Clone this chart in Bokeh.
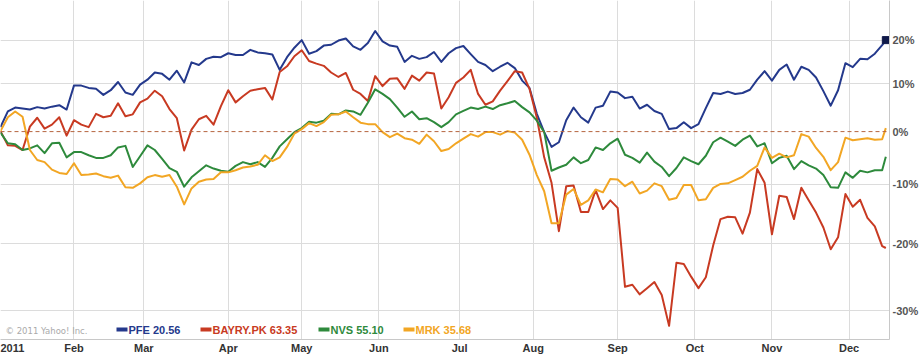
from bokeh.plotting import figure
from bokeh.models import (FixedTicker, Range1d, Span, Label, BoxAnnotation,
                          CustomJSTickFormatter)
from bokeh.embed import file_html
from bokeh.resources import INLINE

# trading-day index (0 = first trading day of 2011), sampled every 2 sessions
days = list(range(0, 241, 2)) + [241]

month_labels = ["2011", "Feb", "Mar", "Apr", "May", "Jun", "Jul", "Aug",
                "Sep", "Oct", "Nov", "Dec"]
month_days = [0, 20, 39, 62, 82, 103, 125, 145, 168, 189, 210, 231]

pct_ticks = [-30, -20, -10, 0, 10, 20]

tickers = ["PFE", "BAYRY.PK", "NVS", "MRK"]
last_prices = ["20.56", "63.35", "55.10", "35.68"]

# percent change since start of 2011
pfe = [0.9, 4.1, 4.9, 4.7, 4.5, 5.0, 4.7, 5.1, 5.4, 4.5,
       9.6, 9.6, 9.1, 8.9, 7.6, 8.6, 10.4, 8.1, 7.6, 9.8,
       10.9, 12.5, 12.2, 10.9, 12.9, 10.3, 14.8, 14.2, 15.6, 16.1,
       16.0, 16.9, 16.5, 16.5, 17.7, 17.1, 16.9, 16.6, 13.1, 16.0,
       18.2, 20.0, 16.8, 17.4, 18.7, 18.9, 19.9, 20.4, 18.5, 17.7,
       19.3, 22.2, 19.7, 18.7, 18.4, 14.9, 16.3, 15.6, 16.0, 17.2,
       14.9, 16.9, 18.1, 18.6, 16.7, 14.9, 14.2, 12.8, 13.8, 14.7,
       13.5, 10.7, 9.1, 3.6, -0.1, -3.0, -2.1, 2.3, 4.9, 2.9,
       1.8, 4.9, 5.3, 8.3, 8.1, 6.9, 7.2, 4.7, 5.5, 4.2,
       3.6, 0.5, 0.7, 1.9, 0.7, 1.5, 4.8, 8.0, 7.8, 8.3,
       7.8, 8.0, 8.7, 10.9, 12.8, 10.7, 13.1, 14.3, 10.9, 13.8,
       13.1, 11.4, 8.4, 5.3, 8.6, 14.6, 13.7, 15.6, 15.5, 16.8,
       18.8, 20.0]

bayry = [0.1, -2.7, -2.8, -3.6, 1.0, 2.8, 0.6, 1.4, 2.9, -0.8,
         2.3, 1.4, 0.9, 3.6, 2.9, 3.2, 5.8, 3.1, 3.5, 6.0,
         6.8, 8.5, 7.3, 4.6, 2.7, -3.7, 0.4, 2.5, 3.2, 1.4,
         5.2, 8.6, 6.0, 7.3, 8.5, 8.8, 9.1, 6.6, 12.6, 13.9,
         16.2, 17.6, 15.1, 14.5, 14.0, 12.5, 11.5, 12.4, 8.7, 7.8,
         6.3, 11.7, 9.5, 11.1, 11.2, 8.9, 11.8, 10.7, 12.5, 12.3,
         4.7, 7.1, 10.2, 11.4, 13.1, 7.8, 5.5, 6.2, 8.5, 10.6,
         12.8, 12.5, 8.9, 2.8, -5.0, -9.7, -18.0, -10.3, -10.2, -14.8,
         -14.8, -11.0, -14.3, -12.8, -14.1, -26.6, -26.3, -27.7, -26.8, -25.9,
         -27.8, -32.1, -23.0, -23.2, -25.1, -26.8, -25.2, -20.3, -16.0, -15.6,
         -15.7, -18.4, -14.9, -7.2, -9.7, -18.5, -12.0, -12.2, -16.0, -10.6,
         -12.8, -14.9, -17.4, -20.9, -19.0, -11.7, -13.9, -12.7, -15.8, -17.2,
         -20.4, -20.7]

nvs = [-0.2, -2.3, -2.5, -3.6, -3.3, -2.7, -4.2, -2.3, -2.2, -5.0,
       -4.0, -4.0, -4.6, -5.1, -5.1, -4.6, -3.1, -2.8, -6.8, -4.8,
       -2.7, -3.6, -5.3, -7.0, -7.7, -10.4, -8.7, -7.6, -6.5, -7.1,
       -7.5, -7.7, -6.6, -5.9, -6.3, -5.9, -6.8, -5.1, -2.9, -1.5,
       -0.1, 0.7, 2.0, 1.8, 2.2, 3.6, 3.5, 4.3, 4.1, 3.4,
       5.9, 8.8, 7.8, 6.7, 4.9, 3.0, 4.1, 2.5, 2.7, 1.9,
       0.9, 1.9, 3.5, 4.2, 4.9, 4.6, 5.1, 4.6, 5.4, 5.8,
       6.3, 5.0, 3.9, 2.2, -0.1, -7.5, -6.9, -6.4, -5.0, -6.1,
       -5.5, -3.1, -3.6, -2.3, -1.4, -4.5, -5.1, -6.0, -4.1, -5.8,
       -6.8, -8.5, -7.0, -5.0, -5.7, -6.3, -4.7, -2.1, -1.2, -2.0,
       -2.8, -1.6, -0.8, -2.9, -2.3, -6.1, -5.1, -4.7, -7.2, -5.7,
       -6.5, -7.1, -8.3, -10.5, -10.6, -7.8, -8.8, -7.5, -7.8, -7.4,
       -7.4, -4.9]

mrk = [0.1, 2.9, 4.1, 3.0, -3.6, -5.5, -5.9, -7.3, -7.9, -8.1,
       -6.1, -8.3, -8.2, -8.0, -8.5, -8.8, -8.4, -10.5, -10.6, -9.8,
       -8.7, -8.3, -8.6, -8.3, -10.4, -13.5, -10.7, -9.5, -9.1, -9.0,
       -7.8, -7.8, -7.4, -6.9, -6.7, -6.4, -4.6, -5.7, -5.0, -3.0,
       -0.4, 0.5, 1.7, 1.1, 1.9, 3.4, 3.5, 4.1, 2.9, 1.8,
       1.5, 1.5, -0.1, -1.1, -0.4, -1.3, -1.6, -2.4, -0.6, -1.9,
       -3.8, -3.4, -2.3, -1.4, -0.5, -1.0, -0.1, -0.1, -0.6, 0.1,
       -0.2, -1.6, -4.5, -8.3, -11.2, -16.7, -16.7, -11.8, -10.8, -13.6,
       -12.8, -10.9, -11.4, -9.0, -9.1, -10.3, -9.5, -11.6, -11.1, -9.8,
       -10.3, -12.7, -12.4, -10.1, -10.1, -12.8, -12.6, -10.6, -9.9, -9.8,
       -9.2, -8.6, -7.5, -6.6, -3.1, -5.1, -4.3, -5.0, -4.6, -0.5,
       -1.0, -3.2, -4.9, -7.4, -5.9, -1.2, -1.7, -1.5, -1.3, -1.6,
       -1.5, 0.7]

series = [pfe, bayry, nvs, mrk]
colors = ["#24398c", "#c83a22", "#2e8a3c", "#f2a624"]

FONT = "Liberation Sans"

p = figure(width=923, height=356, output_backend="svg", toolbar_location=None,
           y_axis_type="log", y_axis_location="right",
           x_range=Range1d(0, 242), y_range=Range1d(0.6608, 1.2986),
           min_border_left=0, min_border_top=0, min_border_right=34,
           min_border_bottom=14)
p.outline_line_color = None
p.background_fill_color = "white"
p.border_fill_color = "white"

# grids
p.xgrid.ticker = FixedTicker(ticks=month_days[1:])
p.ygrid.ticker = FixedTicker(ticks=[1 + t / 100 for t in pct_ticks if t != 0])
for g in (p.xgrid, p.ygrid):
    g.grid_line_color = "#dcdcdc"
    g.grid_line_width = 1

# x axis
xt = [3.2] + month_days[1:]
p.xaxis.ticker = FixedTicker(ticks=xt)
p.xaxis.major_label_overrides = {t: lab for t, lab in zip(xt, month_labels)}
p.xaxis.axis_line_color = "#c8c8c8"
p.xaxis.major_tick_line_color = None
p.xaxis.minor_tick_line_color = None
p.xaxis.major_tick_out = 0
p.xaxis.major_tick_in = 0
p.xaxis.major_label_standoff = 2
p.xaxis.major_label_text_font = FONT
p.xaxis.major_label_text_font_style = "bold"
p.xaxis.major_label_text_font_size = "11px"
p.xaxis.major_label_text_color = "#333333"

# y axis (right)
p.yaxis.ticker = FixedTicker(ticks=[1 + t / 100 for t in pct_ticks])
p.yaxis.formatter = CustomJSTickFormatter(
    code="return Math.round((tick - 1) * 100) + '%';")
p.yaxis.axis_line_color = "#c8c8c8"
p.yaxis.major_tick_line_color = None
p.yaxis.minor_tick_line_color = None
p.yaxis.major_tick_out = 0
p.yaxis.major_tick_in = 0
p.yaxis.major_label_standoff = 3
p.yaxis.major_label_text_font = FONT
p.yaxis.major_label_text_font_style = "bold"
p.yaxis.major_label_text_font_size = "11px"
p.yaxis.major_label_text_color = "#555555"

p.add_layout(Span(location=1.0, dimension="width", line_color="#b5653f",
                  line_dash="4 3", line_width=1))

for s, c in zip(series, colors):
    p.line(days, [1 + v / 100 for v in s], line_color=c, line_width=2,
           line_join="round")

p.scatter([days[-1]], [1 + pfe[-1] / 100], marker="square", size=7,
          fill_color="#101a4a", line_color="#101a4a")

# copyright + legend
p.add_layout(Label(x=5, y=9, x_units="screen", y_units="screen",
                   text="\u00a9 2011 Yahoo! Inc.", text_font="DejaVu Sans",
                   text_font_size="8.5px", text_color="#aaaaaa",
                   text_baseline="middle"))
legend_x = [116, 200, 318, 403]
for lx, name, price, c in zip(legend_x, tickers, last_prices, colors):
    p.add_layout(BoxAnnotation(left=lx, right=lx + 11, bottom=8, top=12,
                               left_units="screen", right_units="screen",
                               bottom_units="screen", top_units="screen",
                               fill_color=c, fill_alpha=1.0, line_color=None))
    p.add_layout(Label(x=lx + 12, y=10, x_units="screen", y_units="screen",
                       text=f"{name} {price}", text_font=FONT,
                       text_font_style="bold", text_font_size="11px",
                       text_color=c, text_baseline="middle"))

open("out.html", "w").write(file_html(p, INLINE))
